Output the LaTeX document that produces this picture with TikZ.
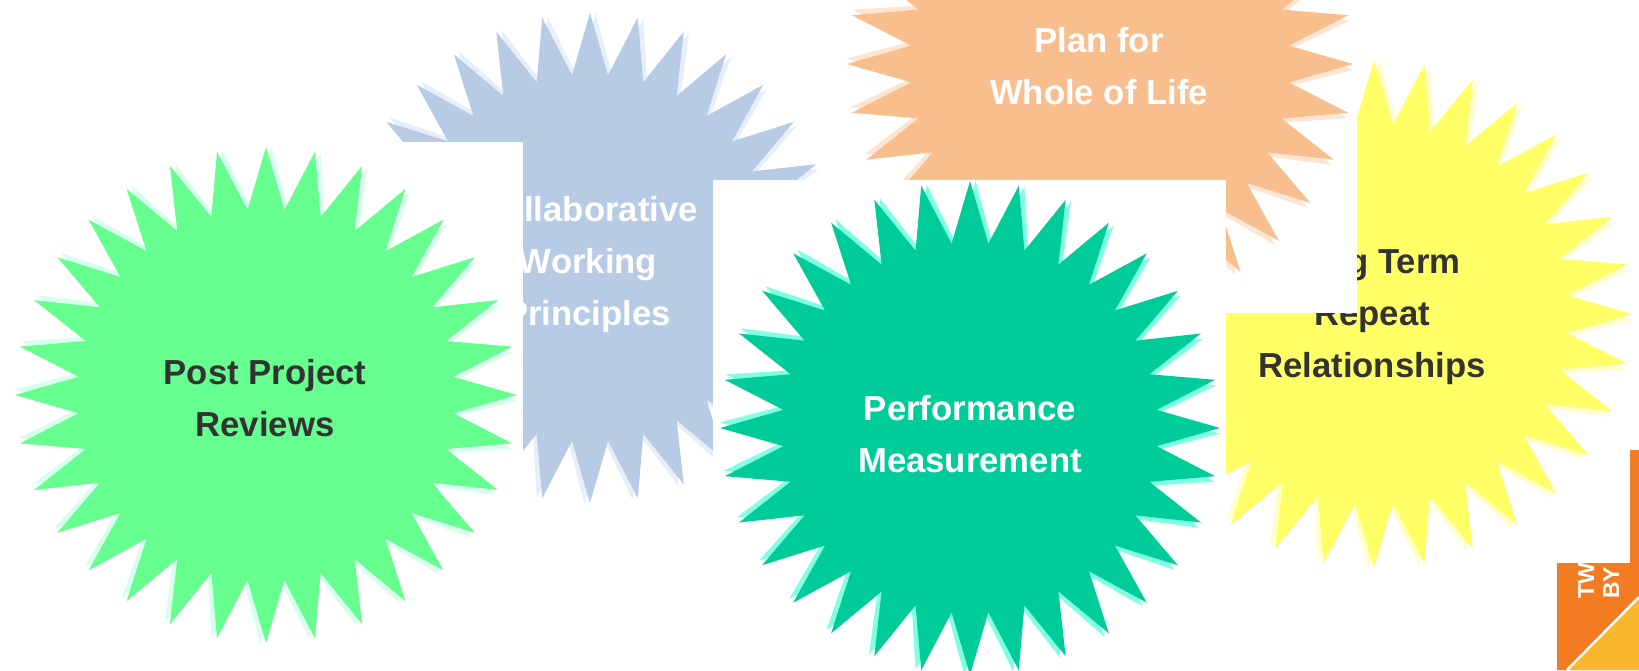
\documentclass[tikz,border=0pt]{standalone}
\usepackage{fontspec}
\setmainfont{Liberation Sans}
\definecolor{burstblue}{HTML}{B8CBE4}
\definecolor{burstgreen}{HTML}{66FF8F}
\definecolor{burstorange}{HTML}{F8BE8E}
\definecolor{burstyellow}{HTML}{FFFF66}
\definecolor{burstteal}{HTML}{00CC99}
\definecolor{edgeblue}{HTML}{E6EEFA}
\definecolor{edgegreen}{HTML}{D8FFEE}
\definecolor{edgeorange}{HTML}{FCE6D2}
\definecolor{edgeyellow}{HTML}{FFFFC8}
\definecolor{edgeteal}{HTML}{80FFE2}
\definecolor{logoorange}{HTML}{F37B21}
\definecolor{logoyellow}{HTML}{FBB730}
\definecolor{textgray}{HTML}{333333}

% starburst: centre, x radius, y radius, fill, edge colour
\newcommand{\burst}[5]{%
\begin{scope}[shift={#1}]
\fill[#5] (1.3:#2 and #3) \foreach \k in {1,...,63} {-- ({1.3+\k*5.625}:{#2*ifthenelse(mod(\k,2)==0,1,0.75)} and {#3*ifthenelse(mod(\k,2)==0,1,0.75)})} -- cycle;
\fill[#4] (0:#2 and #3) \foreach \k in {1,...,63} {-- ({\k*5.625}:{#2*ifthenelse(mod(\k,2)==0,1,0.75)} and {#3*ifthenelse(mod(\k,2)==0,1,0.75)})} -- cycle;
\end{scope}}

\tikzset{
  bursttext/.style={font=\bfseries\fontsize{34.7}{52}\selectfont, align=center, inner sep=0pt},
  logotext/.style={font=\bfseries\fontsize{23}{26}\selectfont, text=white, inner sep=0pt, rotate=90, anchor=base west}
}

\begin{document}
\begin{tikzpicture}[x=1pt, y=-1pt]
\useasboundingbox (0,0) rectangle (1639,670);
\clip (0,0) rectangle (1639,670);

\burst{(590,258)}{245}{245}{burstblue}{edgeblue}
\node[bursttext, text=white] (collab) at (588,265) {Collaborative\\Working\\Principles};

\fill[white] (0,142) rectangle (523,670);
\burst{(266,395)}{251}{248}{burstgreen}{edgegreen}
\node[bursttext, text=textgray] (reviews) at (265,398) {Post Project\\Reviews};

\burst{(1374,314)}{258}{254}{burstyellow}{edgeyellow}
\node[bursttext, text=textgray] (repeat) at (1372,317) {Long Term\\Repeat\\Relationships};

\fill[white] (845,0) rectangle (1357,313);
\burst{(1100,64)}{253}{250}{burstorange}{edgeorange}
\node[bursttext, text=white] (plan) at (1099,66) {Plan for\\Whole of Life};

\fill[white] (713,180) rectangle (1226,670);
\burst{(970,428)}{250}{247}{burstteal}{edgeteal}
\node[bursttext, text=white] (perf) at (970,434) {Performance\\Measurement};

% corner logo
\fill[logoorange] (1630,450) -- (1639,450) -- (1639,670) -- (1557,670) -- (1557,563) -- (1630,563) -- cycle;
\fill[logoyellow] (1567,670) -- (1639,597) -- (1639,670) -- cycle;
\draw[white, line width=2.5pt] (1567,670) -- (1639,597);
\begin{scope}
\clip (1557,563) rectangle (1639,670);
\node[logotext] (tw) at (1594,599) {TW};
\node[logotext] (by) at (1619,599) {BY};
\end{scope}
\end{tikzpicture}
\end{document}
